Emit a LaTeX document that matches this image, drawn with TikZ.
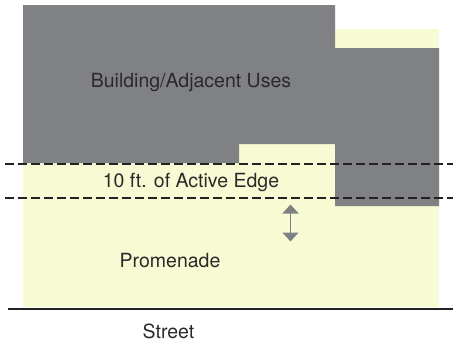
\documentclass[tikz,border=0pt]{standalone}
\usepackage{fontspec}
\setmainfont{TeX Gyre Heros}
\usetikzlibrary{arrows.meta}
\definecolor{bldg}{HTML}{808185}
\definecolor{prom}{HTML}{F7FAD2}
\definecolor{txt}{HTML}{2A2A2A}
\definecolor{dash}{HTML}{222222}
\tikzset{
  lbl/.style={font=\fontsize{19.5}{22}\selectfont, text=txt, inner sep=0pt},
  edgeline/.style={draw=dash, line width=2pt, dash pattern=on 8.5pt off 4.5pt},
  dimarrow/.style={draw=bldg, line width=1.5pt, {Triangle[width=16pt,length=9pt]}-{Triangle[width=16pt,length=9pt]}}
}
\begin{document}
\begin{tikzpicture}[x=1pt,y=-1pt]
\useasboundingbox (0,0) rectangle (453,343);
% promenade (yellow)
\fill[prom] (23,29) rectangle (439,307);
% building
\fill[bldg] (23,5) -- (335,5) -- (335,48) -- (439,48) -- (439,206) -- (335,206) -- (335,144) -- (239,144) -- (239,163) -- (23,163) -- cycle;
% dashed lines
\coordinate (d1a) at (5,163.5);
\coordinate (d1b) at (453,163.5);
\coordinate (d2a) at (5,197.5);
\coordinate (d2b) at (453,197.5);
\draw[edgeline] (d1a) -- (d1b);
\draw[edgeline] (d2a) -- (d2b);
% street
\coordinate (sa) at (8,309);
\coordinate (sb) at (453,309);
\draw[line width=2.6pt, draw=dash] (sa) -- (sb);
% arrow
\coordinate (at) at (290.5,204.5);
\coordinate (ab) at (290.5,241.5);
\draw[dimarrow] (at) -- (ab);
% labels
\node[lbl] (bu) at (191,83) {Building/Adjacent Uses};
\node[lbl] (ae) at (191,182) {10 ft. of Active Edge};
\node[lbl] (pr) at (170,261) {Promenade};
\node[lbl] (st) at (168.5,331) {Street};
\end{tikzpicture}
\end{document}
